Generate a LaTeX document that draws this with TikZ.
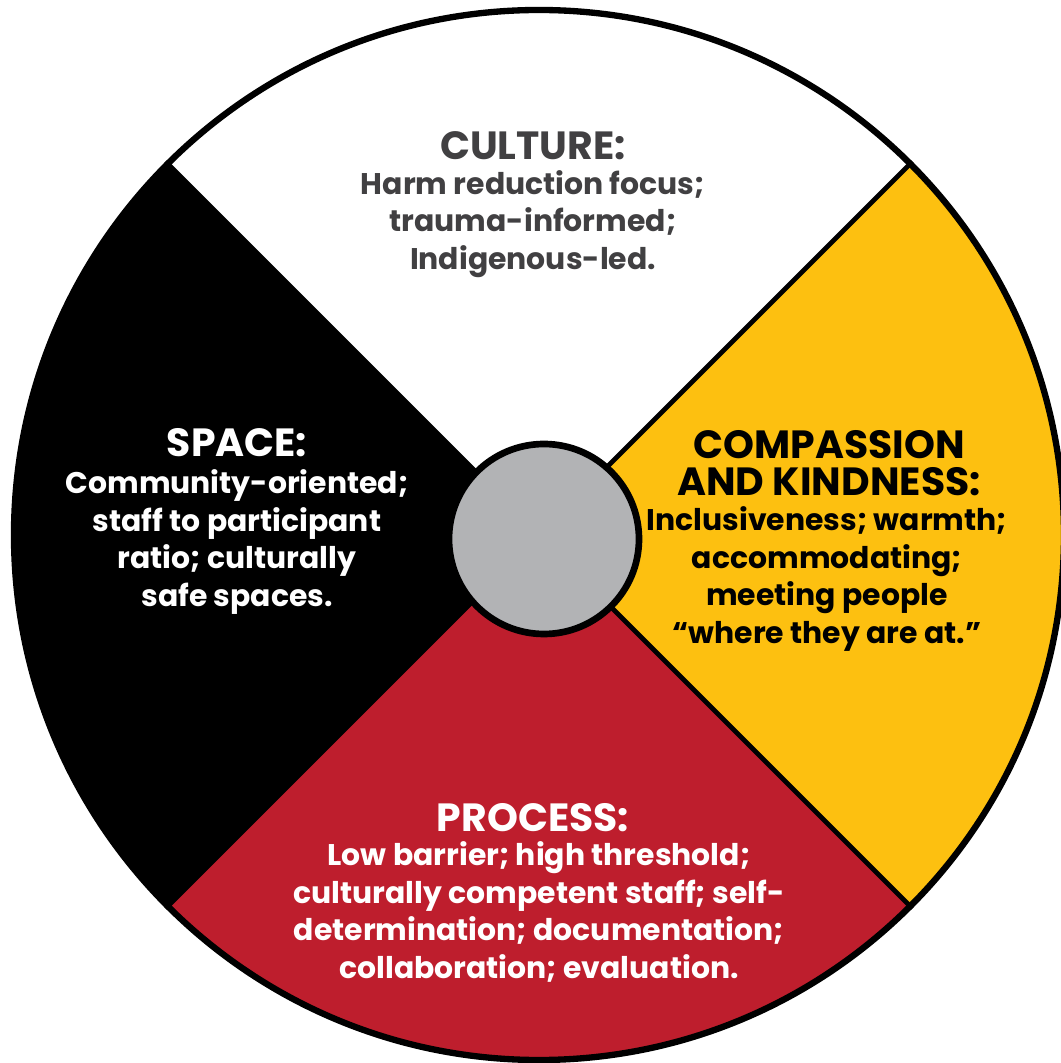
\documentclass[tikz,border=0pt]{standalone}
\usepackage{fontspec}
\setmainfont{Poppins}
\usepackage{tikz}

\definecolor{wheelyellow}{HTML}{FDC010}
\definecolor{wheelred}{HTML}{BE1E2D}
\definecolor{wheelgray}{HTML}{B2B3B5}
\definecolor{culturegray}{HTML}{414042}

\tikzset{
    quadhead/.style={align=center, font=\fontsize{11.2}{10.6}\selectfont\bfseries},
    quadtext/.style={align=center, font=\fontsize{8.5}{10.65}\selectfont\bfseries},
}

\begin{document}
\begin{tikzpicture}
    \useasboundingbox (-5.39,-5.28) rectangle (5.21,5.35);
    % the four quarters
    \fill[white] (0,0) -- (45:5.25) arc (45:135:5.25) -- cycle;
    \fill[black] (0,0) -- (135:5.25) arc (135:225:5.25) -- cycle;
    \fill[wheelred] (0,0) -- (225:5.25) arc (225:315:5.25) -- cycle;
    \fill[wheelyellow] (0,0) -- (-45:5.25) arc (-45:45:5.25) -- cycle;
    \node (wheel) [circle, draw, line width=1.8pt, minimum size=10.5cm, inner sep=0pt] at (0,0) {};
    \foreach \a in {45,135,225,315}
        \draw[line width=1.4pt] (wheel.center) -- (wheel.\a);
    \node (hub) [circle, draw, fill=wheelgray, line width=1.9pt, minimum size=1.9cm, inner sep=0pt] at (0.05,-0.04) {};
    % texts
    \node (culturehead) [quadhead, text=culturegray] at (-0.06,3.89) {CULTURE:};
    \node (culturetext) [quadtext, text=culturegray] at (-0.06,3.11) {Harm reduction focus;\\trauma-informed;\\Indigenous-led.};
    \node (spacehead) [quadhead, text=white] at (-3.02,0.92) {SPACE:};
    \node (spacetext) [quadtext, text=white] at (-3.02,-0.07) {Community-oriented;\\staff to participant\\ratio; culturally\\safe spaces.};
    \node (compassionhead) [quadhead] at (2.90,0.72) {COMPASSION\\AND KINDNESS:};
    \node (compassiontext) [quadtext] at (2.88,-0.44) {Inclusiveness; warmth;\\accommodating;\\meeting people\\``where they are at.''};
    \node (processhead) [quadhead, text=white] at (-0.06,-2.83) {PROCESS:};
    \node (processtext) [quadtext, text=white] at (0.0,-3.77) {Low barrier; high threshold;\\culturally competent staff; self-\\determination; documentation;\\collaboration; evaluation.};
\end{tikzpicture}
\end{document}
